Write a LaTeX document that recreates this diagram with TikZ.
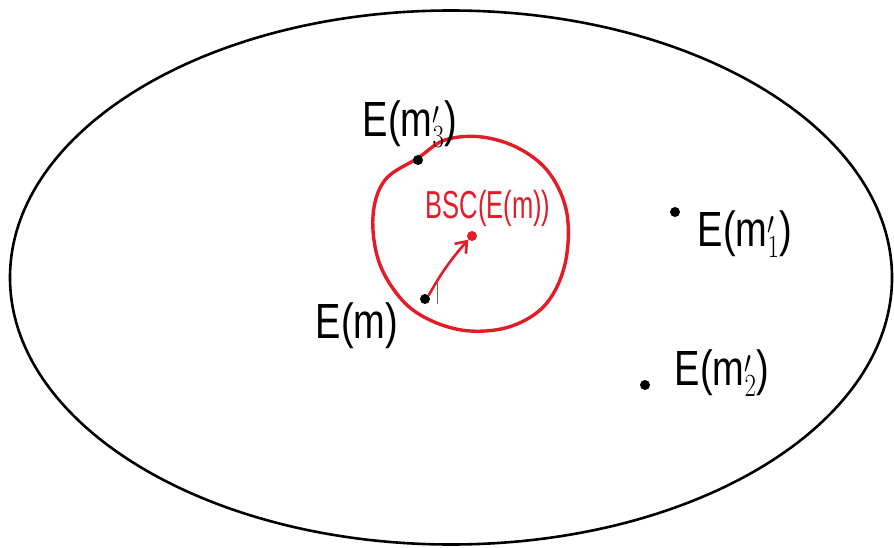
\documentclass[tikz,border=0pt]{standalone}
\usepackage{fontspec}
\setmainfont{Liberation Sans}
\usetikzlibrary{arrows.meta}
\definecolor{penred}{RGB}{228,28,40}
\tikzset{
  dot/.style={circle,fill=black,inner sep=0pt,minimum size=10pt},
  reddot/.style={circle,fill=penred,inner sep=0pt,minimum size=10pt},
  lbl/.style={inner sep=0pt,font=\fontsize{38}{38}\selectfont},
  redlbl/.style={inner sep=0pt,text=penred,font=\fontsize{30}{30}\selectfont},
}
\begin{document}
\begin{tikzpicture}[x=1pt,y=-1pt]
\useasboundingbox (0,0) rectangle (894,548);
\fill[white] (0,0) rectangle (894,548);
% big ellipse
\draw[line width=2.6pt] (451,277.5) ellipse [x radius=441, y radius=267];
% red wobbly circle
\draw[penred,line width=3.4pt] plot[smooth cycle,tension=0.6] coordinates {
 (418,158) (445,140) (482,137) (520,149) (550,174) (567,214) (565,264)
 (546,304) (512,326) (470,331) (432,321) (402,300) (379,262) (373,216) (385,180)};
% dots
\node[dot] (m3) at (418,160) {};
\node[dot] (m) at (425,299) {};
\node[dot] (m1) at (675,212) {};
\node[dot] (m2) at (645,385) {};
\node[reddot] (bsc) at (472,236) {};
% labels
\node[lbl] (lm3) at (410,124) {\scalebox{1}[1.3]{E(m$'_3$)}};
\node[lbl] (lm1) at (745,234) {\scalebox{1}[1.3]{E(m$'_1$)}};
\node[lbl] (lm) at (357,326) {\scalebox{1}[1.3]{E(m)}};
\node[lbl] (lm2) at (722,373) {\scalebox{1}[1.3]{E(m$'_2$)}};
\node[redlbl] (lbsc) at (488,208) {\scalebox{0.85}[1.3]{BSC(E(m))}};
% arrow
\draw[penred,line width=2.6pt,-{Straight Barb[length=10pt,width=15pt]}] (m.north east) to[bend left=6] (bsc.south west);
% thin cursor mark
\coordinate (c1) at (437,283);
\coordinate (c2) at (437,304);
\draw[gray!80!black,line width=0.8pt] (c1) -- (c2);
\end{tikzpicture}
\end{document}
